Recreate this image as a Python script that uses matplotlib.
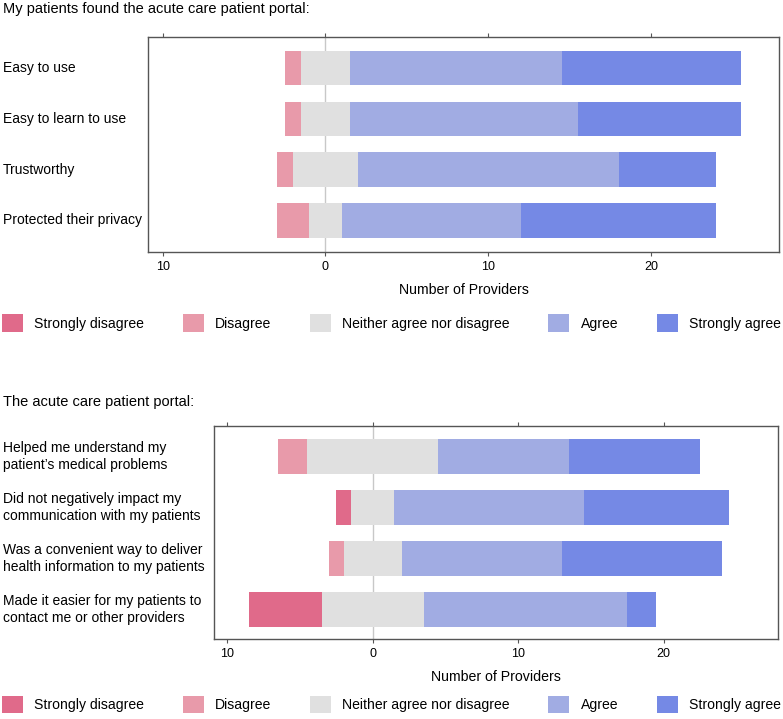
import matplotlib
matplotlib.use("Agg")
import matplotlib.pyplot as plt
from matplotlib.patches import Patch
from matplotlib import transforms
import numpy as np

plt.rcParams["font.family"] = ["Liberation Sans", "DejaVu Sans"]

levels = ["Strongly disagree", "Disagree", "Neither agree nor disagree", "Agree", "Strongly agree"]
colors = ["#E06A8A", "#E89AAA", "#E0E0E0", "#A1ACE3", "#7589E5"]

title_top = "My patients found the acute care patient portal:"
items_top = ["Easy to use", "Easy to learn to use", "Trustworthy", "Protected their privacy"]
# counts per item: SD, D, N, A, SA
sd_top = [0, 0, 0, 0]
d_top = [1, 1, 1, 2]
n_top = [3, 3, 4, 2]
a_top = [13, 14, 16, 11]
sa_top = [11, 10, 6, 12]

title_bot = "The acute care patient portal:"
items_bot = ["Helped me understand my\npatient\u2019s medical problems",
             "Did not negatively impact my\ncommunication with my patients",
             "Was a convenient way to deliver\nhealth information to my patients",
             "Made it easier for my patients to\ncontact me or other providers"]
sd_bot = [0, 1, 0, 5]
d_bot = [2, 0, 1, 0]
n_bot = [9, 3, 4, 7]
a_bot = [9, 13, 11, 14]
sa_bot = [9, 10, 11, 2]

xticks = [-10, 0, 10, 20]
xticklabels = ["10", "0", "10", "20"]

W, H = 783, 719
fig = plt.figure(figsize=(W / 100, H / 100), dpi=100)


def px_axes(x0, y0, x1, y1):
    return fig.add_axes([x0 / W, 1 - y1 / H, (x1 - x0) / W, (y1 - y0) / H])


def likert_panel(ax, items, sd, d, n, a, sa, ylim):
    data = np.array([sd, d, n, a, sa], dtype=float)
    y = np.arange(len(items))
    left = -(data[0] + data[1] + data[2] / 2)
    ax.axvline(0, color="#c8c8c8", lw=1, zorder=0)
    for i in range(5):
        ax.barh(y, data[i], left=left, height=0.68, color=colors[i], lw=0, zorder=2)
        left = left + data[i]
    ax.set_xlim(-10.9, 27.85)
    ax.set_ylim(*ylim)
    ax.set_yticks([])
    ax.set_xticks(xticks, xticklabels)
    ax.tick_params(axis="x", top=True, direction="out", length=3, pad=3.5,
                   labelsize=9, color="#555555")
    for s in ax.spines.values():
        s.set_color("#555555")
        s.set_linewidth(1)
    ax.set_xlabel("Number of Providers", fontsize=10.2, labelpad=7.5)
    tr = transforms.blended_transform_factory(fig.transFigure, ax.transData)
    for yi, lab in zip(y, items):
        ax.text(3 / W, yi, lab, transform=tr, ha="left", va="center",
                fontsize=10, linespacing=1.25)


ax1 = px_axes(148, 37, 779, 252)
likert_panel(ax1, items_top, sd_top, d_top, n_top, a_top, sa_top, (3.62, -0.61))
ax2 = px_axes(214, 426, 778, 639)
likert_panel(ax2, items_bot, sd_bot, d_bot, n_bot, a_bot, sa_bot, (3.58, -0.6))

fig.text(3 / W, 1 - 9 / H, title_top, ha="left", va="center", fontsize=10.5)
fig.text(3 / W, 1 - 402 / H, title_bot, ha="left", va="center", fontsize=10.5)

handles = [Patch(facecolor=c, edgecolor="none", label=l) for c, l in zip(colors, levels)]
for ycen in (323, 704.5):
    fig.legend(handles=handles, loc="center", bbox_to_anchor=(391.5 / W, 1 - ycen / H),
               ncol=5, frameon=False, fontsize=10.1, handlelength=1.5, handleheight=1.5,
               handletextpad=0.8, columnspacing=2.75, borderpad=0, borderaxespad=0)

plt.savefig("out.png", dpi=100)
plt.close()
